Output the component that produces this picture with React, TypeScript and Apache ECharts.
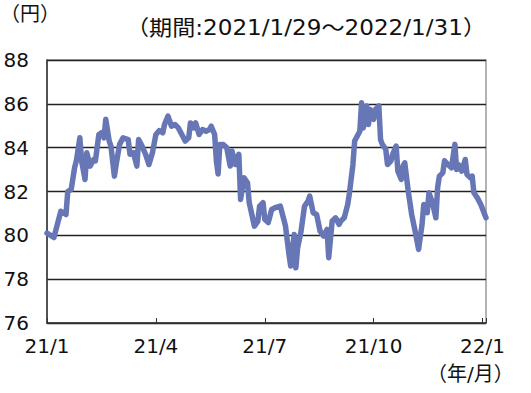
import React, { useEffect, useRef } from "react";
import * as echarts from "echarts";

// x positions are trading-day indices from 2021/1/29 (index 0) to 2022/1/31 (index 254)
const dayIndex: number[] = [
  0, 4, 6, 8, 11, 12, 14, 16, 17, 19, 20, 22, 23, 25, 27, 28, 30, 32, 33, 34,
  36, 37, 39, 40, 42, 44, 47, 48, 50, 52, 53, 55, 57, 59, 61, 63, 65, 67, 68, 70,
  72, 74, 76, 78, 80, 82, 83, 85, 86, 88, 90, 92, 94, 95, 97, 98, 99, 100, 102, 104,
  106, 107, 109, 111, 112, 114, 116, 117, 120, 122, 123, 125, 126, 128, 130, 132, 135, 137, 138, 140,
  141, 143, 144, 145, 147, 149, 151, 152, 154, 156, 158, 160, 162, 163, 165, 167, 169, 170, 172, 174,
  175, 177, 178, 180, 181, 182, 183, 185, 186, 187, 189, 190, 192, 193, 194, 196, 197, 199, 200, 202,
  203, 205, 206, 207, 209, 211, 213, 215, 217, 218, 220, 221, 223, 225, 226, 227, 229, 230, 232, 234,
  236, 237, 238, 240, 242, 243, 245, 246, 247, 249, 251, 254,
];

const rate: number[] = [
  80.1, 79.9, 80.5, 81.1, 80.95, 82.0, 82.1, 83.1, 83.4, 84.45, 83.4, 82.55, 83.77, 83.16, 83.46, 83.4, 84.6, 84.7, 84.45, 85.3,
  84.3, 84.07, 82.7, 83.23, 84.15, 84.45, 84.37, 83.7, 83.77, 83.16, 84.37, 84.07, 83.7, 83.23, 83.77, 84.6, 84.78, 84.68, 85.06, 85.44,
  84.98, 85.06, 84.9, 84.6, 84.3, 84.45, 85.13, 84.9, 85.13, 84.6, 84.83, 84.75, 84.83, 84.98, 84.6, 83.4, 82.8, 84.15, 84.15, 84.0,
  83.16, 83.85, 83.23, 83.7, 81.64, 82.63, 82.4, 81.49, 80.42, 80.65, 81.33, 81.49, 80.73, 80.58, 81.18, 81.26, 81.33, 80.73, 80.42, 79.13,
  78.6, 80.04, 78.52, 79.43, 80.19, 81.33, 81.56, 81.79, 81.03, 80.95, 80.19, 79.97, 80.27, 78.98, 80.65, 80.8, 80.5, 80.65, 80.8, 81.41,
  81.94, 83.23, 84.3, 84.6, 84.75, 86.05, 84.9, 85.9, 85.06, 85.74, 85.29, 85.74, 85.9, 84.37, 84.15, 83.92, 83.23, 83.4, 83.7, 84.07,
  82.93, 82.55, 83.16, 83.31, 82.02, 80.95, 80.19, 79.36, 80.5, 81.41, 81.03, 81.94, 81.49, 80.8, 82.17, 82.7, 82.85, 83.4, 83.23, 83.08,
  84.15, 83.0, 83.23, 82.93, 83.46, 82.78, 82.63, 82.7, 81.94, 81.71, 81.41, 80.8,
];

const tickIndex: number[] = [0, 63, 126, 189, 252];
const tickLabels: string[] = ["21/1", "21/4", "21/7", "21/10", "22/1"];

const yMin = 76;
const yMax = 88;
const yStep = 2;

const FONT = "'DejaVu Sans', 'Noto Sans CJK JP', sans-serif";

export default function App() {
  const ref = useRef<HTMLDivElement>(null);

  useEffect(() => {
    if (!ref.current) return;
    const chart = echarts.init(ref.current, undefined, { renderer: "svg" });
    const seriesData = dayIndex.map((d, i) => [d, rate[i]]);
    chart.setOption({
      animation: false,
      backgroundColor: "#ffffff",
      textStyle: { fontFamily: FONT },
      grid: {
        left: 47,
        top: 60,
        width: 439,
        height: 263,
        show: true,
        borderColor: "#9a9a9a",
        borderWidth: 1.5,
        backgroundColor: "transparent",
      },
      xAxis: {
        type: "value",
        min: 0,
        max: 254,
        interval: 63,
        axisLine: { show: true, onZero: false, lineStyle: { color: "#333", width: 1.5 } },
        axisTick: { show: true, inside: true, length: 5, lineStyle: { color: "#333", width: 1 } },
        splitLine: { show: false },
        axisLabel: {
          color: "#111",
          fontSize: 20,
          fontFamily: FONT,
          margin: 13,
          showMaxLabel: true,
          formatter: (v: number) => {
            const k = tickIndex.indexOf(Math.round(v));
            return k >= 0 ? tickLabels[k] : "";
          },
        },
      },
      yAxis: {
        type: "value",
        min: yMin,
        max: yMax,
        interval: yStep,
        axisLine: { show: true, lineStyle: { color: "#333", width: 1.5 } },
        axisTick: { show: false },
        splitLine: { show: true, lineStyle: { color: "#222", width: 1.3 } },
        axisLabel: { color: "#111", fontSize: 20, fontFamily: FONT, margin: 18 },
      },
      graphic: [
        {
          type: "text",
          x: 0,
          y: 4,
          style: { text: "（円）", fontSize: 20, fontFamily: FONT, fill: "#111" },
        },
        {
          type: "text",
          x: 126,
          y: 17,
          scaleX: 1.1,
          style: { text: "（期間:2021/1/29～2022/1/31）", fontSize: 21, fontFamily: FONT, fill: "#111" },
        },
        {
          type: "text",
          x: 427,
          y: 364,
          style: { text: "（年/月）", fontSize: 20, fontFamily: FONT, fill: "#111" },
        },
      ],
      series: [
        {
          type: "line",
          data: seriesData,
          showSymbol: false,
          symbol: "none",
          lineStyle: { color: "#6777b6", width: 5.5, join: "round", cap: "round" },
          z: 3,
        },
      ],
    });
    return () => chart.dispose();
  }, []);

  return <div ref={ref} style={{ width: 531, height: 393, position: "absolute", left: 0, top: 0 }} />;
}
